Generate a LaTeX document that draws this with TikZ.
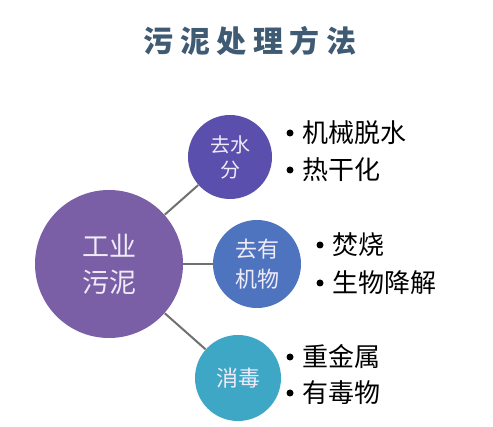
\documentclass[tikz,border=0pt]{standalone}
\usepackage{fontspec}
\newfontfamily\cjk{Noto Sans CJK SC}
\usetikzlibrary{positioning}
\definecolor{titleBlue}{RGB}{63,90,115}
\definecolor{rootPurple}{RGB}{122,95,166}
\definecolor{dryViolet}{RGB}{91,79,174}
\definecolor{orgBlue}{RGB}{79,116,191}
\definecolor{cleanTeal}{RGB}{63,167,198}
\definecolor{linkGray}{RGB}{112,112,112}
\definecolor{softWhite}{RGB}{240,235,248}
\tikzset{
  blob/.style={circle, inner sep=0pt, text=softWhite, align=center, font=\cjk},
  link/.style={linkGray, line width=1pt},
  item/.style={right=6pt, inner sep=0pt, font=\cjk\fontsize{13}{15}\selectfont}
}

\begin{document}
\begin{tikzpicture}[x=0.5pt, y=-0.5pt]
    \useasboundingbox[fill=white] (0,0) rectangle (493,427);
    % Title
    \node[titleBlue, font=\cjk\bfseries\fontsize{15}{18}\selectfont] (title) at (250,41)
      {\addfontfeature{LetterSpace=22}污泥处理方法};
    % Circles
    \node[blob, fill=rootPurple, minimum size=74pt, font=\cjk\fontsize{13.5}{18}\selectfont] (root) at (109,264) {工业\\污泥};
    \node[blob, fill=dryViolet, minimum size=42pt, font=\cjk\fontsize{10}{12.5}\selectfont] (dry) at (230,157) {去水\\分};
    \node[blob, fill=orgBlue, minimum size=44pt, font=\cjk\fontsize{11}{15}\selectfont] (org) at (257,264) {去有\\机物};
    \node[blob, fill=cleanTeal, minimum size=43pt, font=\cjk\fontsize{11}{13}\selectfont] (clean) at (238,378) {消毒};
    % Connectors
    \draw[link] (root) -- (dry);
    \draw[link] (root) -- (org);
    \draw[link] (root) -- (clean);
    % Bullet lists
    \fill (290,133) circle (3.5) node[item] (d1) {机械脱水};
    \fill (290,170) circle (3.5) node[item] (d2) {热干化};
    \fill (320,245) circle (3.5) node[item] (o1) {焚烧};
    \fill (320,283) circle (3.5) node[item] (o2) {生物降解};
    \fill (290,357) circle (3.5) node[item] (c1) {重金属};
    \fill (290,393) circle (3.5) node[item] (c2) {有毒物};
  \end{tikzpicture}
\end{document}
